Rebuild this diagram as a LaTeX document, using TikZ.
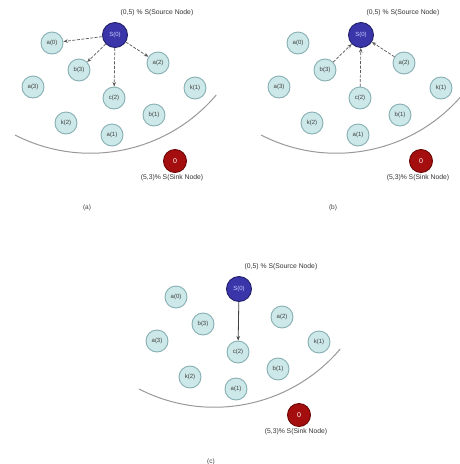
\documentclass[tikz,border=0pt]{standalone}
\usepackage{fontspec}
\setmainfont{Liberation Sans}
\usetikzlibrary{arrows.meta}
\definecolor{nodefill}{HTML}{CDE8E9}
\definecolor{nodeedge}{HTML}{86AFB2}
\definecolor{srcfill}{HTML}{3A35A8}
\definecolor{srcedge}{HTML}{22206A}
\definecolor{sinkfill}{HTML}{A50E0E}
\definecolor{sinkedge}{HTML}{6A0505}
\tikzset{
  x=1pt, y=-1pt,
  sensor/.style={circle, draw=nodeedge, line width=0.9pt, fill=nodefill, minimum size=22pt, inner sep=0pt, font=\fontsize{6}{7}\selectfont, text=black!75},
  srcnode/.style={circle, draw=srcedge, line width=0.9pt, fill=srcfill, minimum size=25pt, inner sep=0pt, font=\fontsize{6}{7}\selectfont, text=white!80!blue},
  sinknode/.style={circle, draw=sinkedge, line width=0.9pt, fill=sinkfill, minimum size=23pt, inner sep=0pt, font=\fontsize{7}{8}\selectfont, text=white},
  lbl/.style={font=\fontsize{6.8}{8}\selectfont, text=black!80, inner sep=0pt},
  captext/.style={font=\fontsize{6.5}{7}\selectfont, text=black!75, inner sep=0pt},
  field/.style={draw=black!40, line width=1pt},
  dashlink/.style={draw=black!65, line width=0.7pt, dashed, dash pattern=on 3pt off 1.5pt, -{Stealth[length=4.5pt,width=3.5pt]}},
  solidlink/.style={draw=black!75, line width=0.8pt, -{Stealth[length=4.5pt,width=3.5pt]}}
}
\newcommand{\drawfield}[1]{%
  \draw[field] (15,135) arc[start angle=117.2, end angle=40.3, radius=165];
  \node[srcnode] (src) at (115,35) {S(0)};
  \node[lbl] (srclbl) at (157,13) {(0,5) \% S(Source Node)};
  \node[sensor] (a0) at (52,43) {a(0)};
  \node[sensor] (b3) at (79,70) {b(3)};
  \node[sensor] (a2) at (158,63) {a(2)};
  \node[sensor] (a3) at (33,87) {a(3)};
  \node[sensor] (c2) at (114,98) {c(2)};
  \node[sensor] (k1) at (195,88) {k(1)};
  \node[sensor] (k2) at (66,123) {k(2)};
  \node[sensor] (b1) at (154,115) {b(1)};
  \node[sensor] (a1) at (112,135) {a(1)};
  \node[sinknode] (sink) at (175,161) {0};
  \node[lbl] (sinklbl) at (172,178) {(5,3)\% S(Sink Node)};
  \node[captext] (caption) at (87,208) {#1};
}
\begin{document}
\begin{tikzpicture}
\useasboundingbox (0,0) rectangle (459,464);
\fill[white] (0,0) rectangle (459,464);
\begin{scope}[name prefix=pa-]
  \drawfield{(a)}
  \draw[dashlink] (src) -- (a0);
  \draw[dashlink] (src) -- (b3);
  \draw[dashlink] (src) -- (c2);
  \draw[dashlink] (src) -- (a2);
\end{scope}
\begin{scope}[shift={(246,0)}, name prefix=pb-]
  \drawfield{(b)}
  \draw[dashlink] (b3) -- (src);
  \draw[dashlink] (c2) -- (src);
  \draw[dashlink] (a2) -- (src);
\end{scope}
\begin{scope}[shift={(124,254)}, name prefix=pc-]
  \drawfield{(c)}
  \draw[solidlink] (src) -- (c2);
\end{scope}
\end{tikzpicture}
\end{document}
